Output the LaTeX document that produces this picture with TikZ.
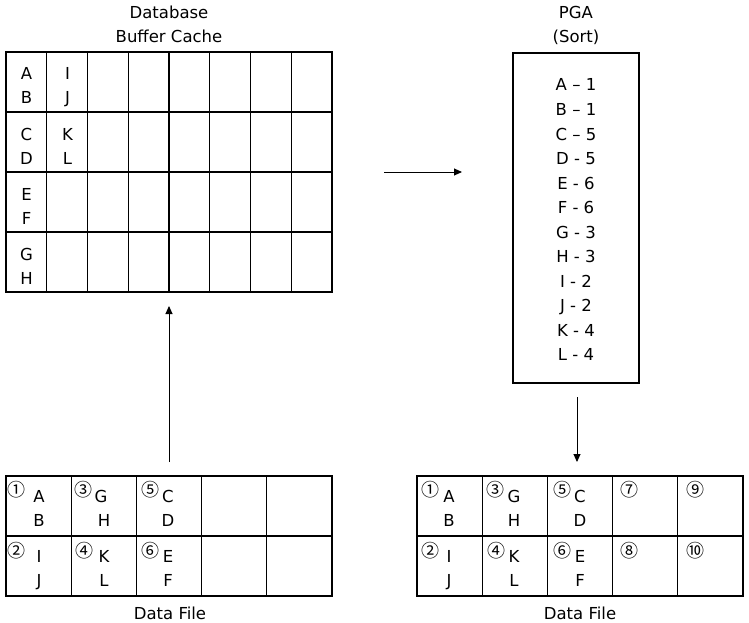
\documentclass[tikz,border=0pt]{standalone}
\usepackage{fontspec}
\setmainfont{DejaVu Sans}
\newfontfamily\cjkfont{Noto Sans CJK KR}
\usetikzlibrary{arrows.meta}
\begin{document}
\begin{tikzpicture}[x=1pt,y=-1pt,
  gridline/.style={line width=1.3pt, line cap=rect},
  txt/.style={font=\fontsize{16.5}{19}\selectfont, inner sep=0pt, anchor=base},
  circ/.style={font=\cjkfont\fontsize{18}{20}\selectfont, inner sep=0pt, anchor=center},
  arr/.style={line width=0.9pt,-{Triangle[length=8pt,width=7pt]}}]
\useasboundingbox (0,0) rectangle (749,623);
% ---------- Database Buffer Cache ----------
\node[txt] (t1) at (169,19) {Database};
\node[txt] (t2) at (169,43) {Buffer Cache};
\foreach \i in {1,...,7} \draw[gridline] ({6+\i*40.75},52) -- ({6+\i*40.75},292);
\foreach \j in {1,...,3} \draw[gridline] (6,{52+\j*60}) -- (332,{52+\j*60});
\draw[gridline] (6,52) rectangle (332,292);
\node[txt] (bA) at (26.5,80) {A};
\node[txt] (bB) at (26.5,104) {B};
\node[txt] (bC) at (26.5,140) {C};
\node[txt] (bD) at (26.5,164) {D};
\node[txt] (bE) at (26.5,200) {E};
\node[txt] (bF) at (26.5,224) {F};
\node[txt] (bG) at (26.5,260) {G};
\node[txt] (bH) at (26.5,284) {H};
\node[txt] (bI) at (67.5,80) {I};
\node[txt] (bJ) at (67.5,104) {J};
\node[txt] (bK) at (67.5,140) {K};
\node[txt] (bL) at (67.5,164) {L};
% ---------- PGA ----------
\node[txt] (p1) at (576,19) {PGA};
\node[txt] (p2) at (576,43) {(Sort)};
\draw[line width=1.1pt] (513,53) rectangle (639,383);
\foreach \t [count=\k from 0] in {A – 1,B – 1,C – 5,D - 5,E - 6,F - 6,G - 3,H - 3,I - 2,J - 2,K - 4,L - 4}
  \node[txt] (pg\k) at (576,{91+\k*24.5}) {\t};
% ---------- Data File (left) ----------
\foreach \i in {1,...,4} \draw[gridline] ({6+\i*65.2},476) -- ({6+\i*65.2},596);
\draw[gridline] (6,536) -- (332,536);
\draw[gridline] (6,476) rectangle (332,596);
\node[txt] (d1) at (170,619) {Data File};
\node[circ] (lc1) at (17,490) {①};
\node[circ] (lc2) at (17,551) {②};
\node[circ] (lc3) at (83,490) {③};
\node[circ] (lc4) at (84,551) {④};
\node[circ] (lc5) at (150,490) {⑤};
\node[circ] (lc6) at (150,551) {⑥};
\node[txt] (lA) at (39,502) {A};
\node[txt] (lB) at (39,526) {B};
\node[txt] (lI) at (39,562) {I};
\node[txt] (lJ) at (39,586) {J};
\node[txt] (lG) at (101,502) {G};
\node[txt] (lH) at (104,526) {H};
\node[txt] (lK) at (104,562) {K};
\node[txt] (lL) at (104,586) {L};
\node[txt] (lC) at (168,502) {C};
\node[txt] (lD) at (168,526) {D};
\node[txt] (lE) at (168,562) {E};
\node[txt] (lF) at (168,586) {F};
% ---------- Data File (right) ----------
\foreach \i in {1,...,4} \draw[gridline] ({417+\i*65.2},476) -- ({417+\i*65.2},596);
\draw[gridline] (417,536) -- (743,536);
\draw[gridline] (417,476) rectangle (743,596);
\node[txt] (d2) at (580,619) {Data File};
\node[circ] (rc1) at (430,490) {①};
\node[circ] (rc2) at (430,551) {②};
\node[circ] (rc3) at (495,490) {③};
\node[circ] (rc4) at (496,551) {④};
\node[circ] (rc5) at (562,490) {⑤};
\node[circ] (rc6) at (562,551) {⑥};
\node[circ] (rc7) at (629,490) {⑦};
\node[circ] (rc8) at (629,551) {⑧};
\node[circ] (rc9) at (695,490) {⑨};
\node[circ] (rc10) at (695,551) {⑩};
\node[txt] (rA) at (449,502) {A};
\node[txt] (rB) at (449,526) {B};
\node[txt] (rI) at (449,562) {I};
\node[txt] (rJ) at (449,586) {J};
\node[txt] (rG) at (514,502) {G};
\node[txt] (rH) at (514,526) {H};
\node[txt] (rK) at (514,562) {K};
\node[txt] (rL) at (514,586) {L};
\node[txt] (rC) at (580,502) {C};
\node[txt] (rD) at (580,526) {D};
\node[txt] (rE) at (580,562) {E};
\node[txt] (rF) at (580,586) {F};
% ---------- arrows ----------
\coordinate (h1) at (384,172);
\coordinate (h2) at (462,172);
\coordinate (u1) at (169,462);
\coordinate (u2) at (169,306);
\coordinate (v1) at (577,397);
\coordinate (v2) at (577,462);
\draw[arr] (h1) -- (h2);
\draw[arr] (u1) -- (u2);
\draw[arr] (v1) -- (v2);
\end{tikzpicture}
\end{document}
